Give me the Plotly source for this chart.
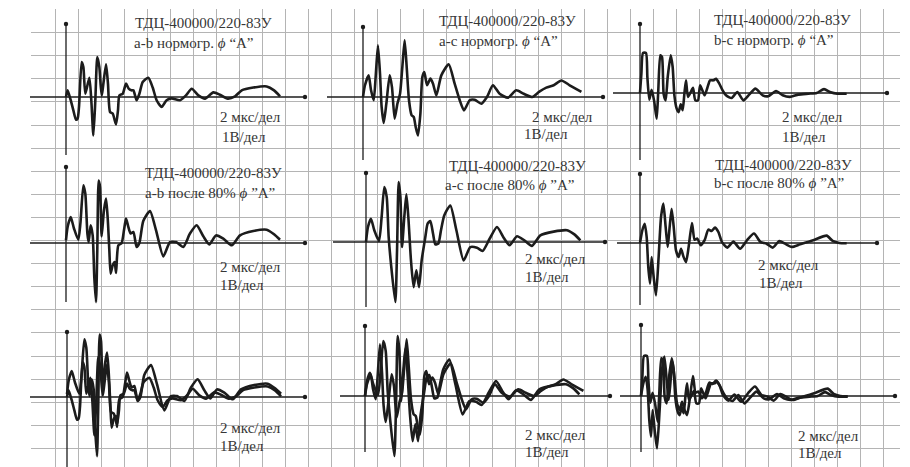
import plotly.graph_objects as go

W, H = 910, 467
PX_PER_US = 11.5   # one division = 23 px = 2 µs
PX_PER_V = 23.0    # one division = 23 px = 1 V

# ---- waveforms (time, µs ; voltage, V) ----
t_ab_norm = [0, 0.14, 0.41, 0.64, 0.87, 1.01, 1.13, 1.36, 1.51, 1.68, 2.03, 2.20, 2.38, 2.55, 2.72, 2.90,
             3.10, 3.48, 3.65, 3.83, 4.06, 4.35, 4.52, 4.64, 4.93, 5.22, 5.45, 5.68, 5.86, 6.14, 6.38, 6.67,
             7.16, 7.54, 7.88, 8.32, 8.75, 9.19, 9.91, 10.43, 10.93, 11.51, 12.09, 12.81, 13.39, 14.06,
             14.70, 15.28, 16.29, 17.45, 18.09, 18.61]
v_ab_norm = [0, 0.29, -0.14, -0.58, -0.99, -0.94, -0.43, 1.52, 1.30, 0.14, 0.84, -0.14, -1.67, -0.14, 1.74, 1.30,
             0.07, 1.42, 0.58, -0.65, -0.72, -1.19, -0.58, 0.07, 0.14, 0.58, 0.36, 0.29, 0.29, -0.14, 0.14, 0.65,
             0.84, 0.41, -0.14, -0.43, -0.14, -0.06, -0.14, 0.07, 0.36, 0.07, -0.07, 0.20, 0.10, -0.07,
             0.03, 0.29, 0.41, 0.46, 0.29, 0.03]

t_ac_norm = [0, 0.17, 0.49, 0.70, 0.93, 1.10, 1.30, 1.48, 1.62, 1.80, 2.03, 2.32, 2.52, 2.75, 2.99, 3.22,
             3.42, 3.62, 3.80, 4.00, 4.23, 4.41, 4.58, 4.78, 4.99, 5.16, 5.33, 5.57, 5.86, 6.09, 6.38, 6.81,
             7.45, 7.97, 8.41, 8.78, 9.28, 9.71, 10.29, 10.78, 11.30, 11.88, 12.61, 13.33, 13.97, 14.72,
             15.30, 15.94, 16.58, 17.25, 17.97, 18.99]
v_ac_norm = [0, 0.51, 0.94, 0.29, -0.14, 0.87, 2.25, 1.01, -0.43, -1.13, -0.29, 0.94, 0.43, -0.94, -0.29, 0.14,
             1.30, 2.46, 1.30, -0.14, -0.80, -0.87, -1.30, -1.67, -0.72, 0.87, 1.09, 0.51, 0.80, 0.58, 0.07, 0.94,
             1.42, 0.58, -0.14, -0.58, -0.14, -0.12, -0.29, 0, 0.51, 0.14, -0.03, 0.29, 0.14, 0,
             0.22, 0.41, 0.51, 0.72, 0.51, 0.22]

t_bc_norm = [0, 0.12, 0.26, 0.52, 0.64, 0.81, 1.01, 1.22, 1.45, 1.59, 1.77, 1.91, 2.06, 2.23, 2.41, 2.67,
             2.84, 2.99, 3.19, 3.36, 3.54, 3.71, 3.86, 4.00, 4.17, 4.41, 4.61, 4.81, 5.04, 5.22, 5.42, 5.62,
             5.86, 6.09, 6.38, 6.61, 6.87, 7.16, 7.48, 7.97, 8.46, 8.99, 9.51, 10.03, 10.67, 11.16, 11.83,
             12.41, 13.04, 13.77, 14.64, 15.36, 16.00, 16.58, 17.16, 17.97]
v_bc_norm = [0, 0.84, 1.74, 1.74, 0.70, -0.29, 0.14, -0.32, -1.12, 0.12, 1.64, 1.57, -0.06, -0.32, 0.70, 1.64,
             1.13, -0.10, -0.68, -0.83, -0.49, -0.75, -0.03, 0.55, -0.17, 0.04, 0.23, -0.32, -0.32, 0.33, 0.12, -0.10,
             0.23, 0.55, 0.55, 0.62, 0.43, 0.14, -0.10, -0.22, 0.04, -0.32, -0.06, 0.19, -0.10, -0.14, 0.09,
             -0.10, -0.17, -0.07, -0.03, 0, 0.17, 0.03, -0.03, -0.03]

t_ab_80 = [0, 0.14, 0.41, 0.70, 1.07, 1.25, 1.51, 1.68, 1.86, 1.97, 2.14, 2.32, 2.46, 2.61, 2.72, 2.84,
           2.96, 3.10, 3.30, 3.48, 3.62, 3.77, 3.88, 4.06, 4.23, 4.35, 4.55, 4.84, 5.04, 5.22, 5.42, 5.62,
           5.86, 6.14, 6.38, 6.72, 7.30, 7.83, 8.46, 9.04, 9.57, 10.20, 10.78, 11.36, 11.94, 12.46, 13.04,
           13.68, 14.41, 15.13, 16.29, 17.45, 18.09, 18.61]
v_ab_80 = [0.12, 0.70, 1.13, 0.62, 0.14, 0.84, 2.51, 2.14, 0.41, 0.04, 0.77, 0.33, -1.48, -2.57, -0.32, 2.72,
           2.43, 0.29, 1.42, 1.93, 1.13, -0.32, -1.33, -0.97, -0.83, -1.30, -0.10, 0, 0.55, 1.06, 0.70, 0.41,
           0.48, -0.17, 0, 0.96, 1.39, 0.55, -0.58, 0.04, 0.04, -0.17, 0.41, 0.77, 0.29, -0.06, 0.33,
           0.19, -0.10, 0.33, 0.52, 0.58, 0.38, 0.14]

t_ac_80 = [0, 0.17, 0.43, 0.72, 1.13, 1.36, 1.59, 1.80, 1.97, 2.17, 2.55, 2.70, 2.84, 2.99, 3.13, 3.33,
           3.51, 3.68, 3.91, 4.14, 4.38, 4.61, 4.84, 5.16, 5.36, 5.59, 5.83, 6.03, 6.29, 6.52, 6.81, 7.33,
           7.86, 8.49, 9.07, 9.65, 10.14, 10.75, 11.39, 11.97, 12.49, 13.13, 13.77, 14.43, 15.16, 16.32,
           17.48, 18.12, 18.64]
v_ac_80 = [0, 0.65, 1.01, 0.51, 0.04, 1.09, 2.39, 1.96, 0.22, -0.94, -2.61, -0.36, 2.61, 1.96, -0.22, 1.09,
           2.07, 1.09, -0.80, -1.96, -1.23, -1.96, -0.80, 0.22, 0.80, 0.91, 0.36, -0.10, -0.07, 0.51, 1.16, 1.59,
           0.51, -0.80, -0.22, -0.25, -0.39, 0.14, 0.65, 0.19, -0.14, 0.25, 0.07, -0.17, 0.29, 0.45,
           0.51, 0.33, 0.07]

t_bc_80 = [0, 0.20, 0.41, 0.58, 0.72, 0.87, 1.01, 1.19, 1.39, 1.62, 1.83, 2.03, 2.23, 2.41, 2.58, 2.75,
           2.93, 3.13, 3.36, 3.57, 3.77, 4.00, 4.23, 4.52, 4.75, 4.99, 5.28, 5.62, 5.94, 6.23, 6.52, 6.81,
           7.13, 7.59, 8.12, 8.70, 9.33, 9.91, 10.49, 11.01, 11.54, 12.12, 12.61, 13.19, 13.91, 15.07,
           16.23, 16.75, 17.33, 17.97]
v_bc_80 = [0, 0.55, 0.84, 0.26, -1.04, -1.77, -0.61, -1.48, -2.28, -0.61, 1.13, 1.71, 0.70, -0.17, 0.70, 1.49,
           0.70, -0.32, -0.61, -0.25, -0.58, -0.83, -0.17, 0.87, 0.14, 0.19, -0.10, 0.12, 0.58, 0.52, 0.67, 0.48,
           0.04, -0.20, 0.06, -0.25, 0.14, 0.41, 0.04, -0.03, -0.20, 0.09, -0.03, -0.17, -0.06, 0.12,
           0.32, 0.09, 0, -0.01]

series = {
    "ab_norm": (t_ab_norm, v_ab_norm), "ac_norm": (t_ac_norm, v_ac_norm), "bc_norm": (t_bc_norm, v_bc_norm),
    "ab_80": (t_ab_80, v_ab_80), "ac_80": (t_ac_80, v_ac_80), "bc_80": (t_bc_80, v_bc_80),
}

TITLE = "ТДЦ-400000/220-83У"
subtitles = ["a-b нормогр. <i>ϕ</i> “A”", "a-c нормогр. <i>ϕ</i> “A”", "b-c нормогр. <i>ϕ</i> “A”",
             "a-b после 80% <i>ϕ</i> ”A”", "a-c после 80% <i>ϕ</i> ”A”", "b-c после 80% <i>ϕ</i> ”A”"]
SCALE_T = "2 мкс/дел"
SCALE_V = "1В/дел"

# ---- panel layout in page pixels ----
# origin (x0, y0), vertical axis extent, horizontal axis extent, title pos, scale-label pos
panels = [
    dict(o=(66, 97), ya=(24, 155), xa=(30, 305), s=["ab_norm"], title=(133, 23, 132, 43), lab=(218, 117, 220, 137)),
    dict(o=(363, 97), ya=(27, 160), xa=(327, 603), s=["ac_norm"], title=(437, 21, 437, 41), lab=(530, 117, 522, 134)),
    dict(o=(640, 93), ya=(24, 160), xa=(613, 887), s=["bc_norm"], title=(712, 20, 712, 40), lab=(780, 117, 780, 137)),
    dict(o=(66, 243), ya=(167, 302), xa=(30, 305), s=["ab_80"], title=(143, 173, 143, 193), lab=(218, 267, 218, 285)),
    dict(o=(366, 242), ya=(173, 307), xa=(333, 605), s=["ac_80"], title=(447, 166, 443, 185), lab=(523, 259, 523, 277)),
    dict(o=(640, 243), ya=(174, 305), xa=(617, 877), s=["bc_80"], title=(713, 165, 712, 183), lab=(756, 265, 757, 283)),
    dict(o=(67, 397), ya=(332, 467), xa=(30, 305), s=["ab_norm", "ab_80"], title=None, lab=(218, 428, 218, 446)),
    dict(o=(365, 396), ya=(326, 452), xa=(340, 610), s=["ac_norm", "ac_80"], title=None, lab=(523, 435, 523, 452)),
    dict(o=(641, 396), ya=(325, 452), xa=(620, 895), s=["bc_norm", "bc_80"], title=None, lab=(796, 436, 796, 453)),
]

INK = "#1c1c1c"
TEXT = "#363636"
GRID = "#b4b4b4"
FONT = dict(family="Liberation Serif", size=15, color=TEXT)

# plotting area of the graph paper (page pixels)
GX0, GX1, GY0, GY1 = 31, 900, 9, 467


def px(x):
    return x / W


def py(y):
    return 1 - y / H


fig = go.Figure()

# graph-paper background
fig.add_trace(go.Scatter(x=[GX0], y=[GY1], xaxis="x", yaxis="y", mode="markers",
                         marker=dict(opacity=0), hoverinfo="skip", showlegend=False))

layout = dict(
    width=W, height=H, margin=dict(l=0, r=0, t=0, b=0),
    paper_bgcolor="white", plot_bgcolor="rgba(0,0,0,0)", showlegend=False,
    xaxis=dict(domain=[GX0 / W, GX1 / W], range=[GX0, GX1], tick0=32, dtick=23.0, showgrid=True,
               gridcolor=GRID, gridwidth=1.2, zeroline=False, showticklabels=False, ticks="", showline=False),
    yaxis=dict(domain=[0, 1 - GY0 / H], range=[GY1, GY0], tick0=9.5, dtick=23.1, showgrid=True,
               gridcolor=GRID, gridwidth=1.2, zeroline=False, showticklabels=False, ticks="", showline=False),
)

shapes = []
annotations = []

for i, p in enumerate(panels):
    k = i + 2
    x0, y0 = p["o"]
    # overlaying axes share the paper area's domain
    xr = [(GX0 - x0) / PX_PER_US, (GX1 - x0) / PX_PER_US]
    yr = [(y0 - GY1) / PX_PER_V, (y0 - GY0) / PX_PER_V]
    layout[f"xaxis{k}"] = dict(range=xr, overlaying="x", anchor=f"y{k}", visible=False)
    layout[f"yaxis{k}"] = dict(range=yr, overlaying="y", anchor=f"x{k}", visible=False)

    for name in p["s"]:
        t, v = series[name]
        fig.add_trace(go.Scatter(x=t, y=v, xaxis=f"x{k}", yaxis=f"y{k}", mode="lines",
                                 line=dict(color=INK, width=2.6, shape="spline", smoothing=0.6),
                                 hoverinfo="skip", showlegend=False))

    # panel axes with arrow dots
    ytop, ybot = p["ya"]
    xl, xr_px = p["xa"]
    shapes.append(dict(type="line", xref="paper", yref="paper", x0=px(x0), x1=px(x0), y0=py(ytop), y1=py(ybot),
                       line=dict(color=INK, width=1.3)))
    shapes.append(dict(type="line", xref="paper", yref="paper", x0=px(xl), x1=px(xr_px), y0=py(y0), y1=py(y0),
                       line=dict(color=INK, width=1.3)))
    r = 2.2
    for cx, cy in [(x0, ytop), (xr_px, y0)]:
        shapes.append(dict(type="circle", xref="paper", yref="paper", x0=px(cx - r), x1=px(cx + r),
                           y0=py(cy + r), y1=py(cy - r), fillcolor=INK, line=dict(width=0)))

    if p["title"]:
        tx, ty, sx, sy = p["title"]
        annotations.append(dict(text=TITLE, x=px(tx), y=py(ty), xref="paper", yref="paper",
                                xanchor="left", yanchor="middle", showarrow=False, font=FONT))
        annotations.append(dict(text=subtitles[i], x=px(sx), y=py(sy), xref="paper", yref="paper",
                                xanchor="left", yanchor="middle", showarrow=False, font=FONT))
    lx, ly, vx, vy = p["lab"]
    annotations.append(dict(text=SCALE_T, x=px(lx), y=py(ly), xref="paper", yref="paper",
                            xanchor="left", yanchor="middle", showarrow=False, font=FONT))
    annotations.append(dict(text=SCALE_V, x=px(vx), y=py(vy), xref="paper", yref="paper",
                            xanchor="left", yanchor="middle", showarrow=False, font=FONT))

layout["shapes"] = shapes
layout["annotations"] = annotations
fig.update_layout(**layout)

fig.write_html("out.html")
